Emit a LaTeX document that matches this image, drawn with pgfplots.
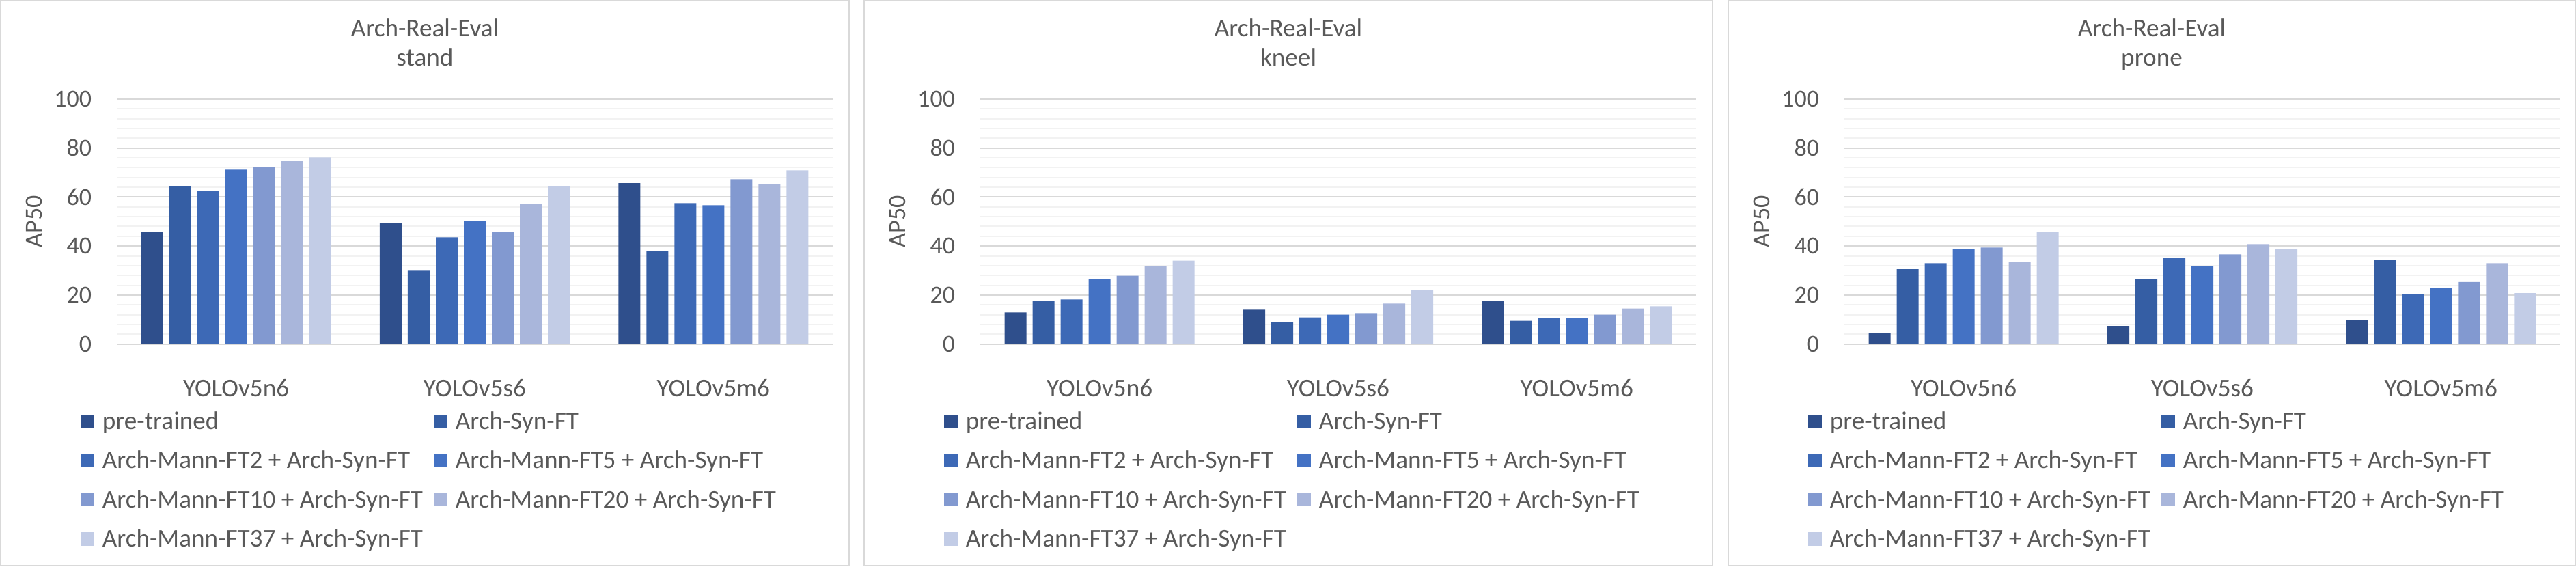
\documentclass[border=0pt]{standalone}
\usepackage{fontspec}
\setmainfont{Carlito}
\usepackage{pgfplots}
\usepackage{pgfplotstable}
\pgfplotsset{compat=1.18}

\definecolor{txt}{HTML}{595959}
\definecolor{majg}{HTML}{D9D9D9}
\definecolor{ming}{HTML}{F2F2F2}
\definecolor{cA}{HTML}{2F4F8C}
\definecolor{cB}{HTML}{355EA4}
\definecolor{cC}{HTML}{3D69B6}
\definecolor{cD}{HTML}{4472C4}
\definecolor{cE}{HTML}{8299D0}
\definecolor{cF}{HTML}{A9B6DB}
\definecolor{cG}{HTML}{C2CCE6}

\pgfplotstableread{
x pre syn ftb ftc ftd fte ftf
0 45.6 64.3 62.3 71.2 72.3 74.8 76.2
1 49.5 30.2 43.6 50.3 45.6 57.0 64.5
2 65.7 38.0 57.5 56.7 67.3 65.4 70.9
}\standtab
\pgfplotstableread{
x pre syn ftb ftc ftd fte ftf
0 12.9 17.6 18.2 26.5 27.9 31.8 34.0
1 14.0 8.9 10.9 12.0 12.6 16.5 22.0
2 17.6 9.5 10.6 10.6 12.0 14.5 15.4
}\kneeltab
\pgfplotstableread{
x pre syn ftb ftc ftd fte ftf
0 4.6 30.5 33.0 38.6 39.4 33.6 45.6
1 7.4 26.4 35.0 31.9 36.6 40.8 38.6
2 9.7 34.4 20.2 23.0 25.3 33.0 20.8
}\pronetab

\newcommand{\lb}[1]{\makebox[118.25pt][l]{#1}}

\pgfplotsset{
  panel/.style={
    scale only axis,
    width=262pt, height=89.65pt,
    ybar=2.25pt, bar width=8pt,
    ymin=0, ymax=100,
    ytick={0,20,...,100},
    minor ytick={4,8,...,96},
    xmin=-0.5, xmax=2.5,
    xtick={0,1,2},
    xticklabels={YOLOv5n6,YOLOv5s6,YOLOv5m6},
    axis line style={draw=none},
    tick style={draw=none},
    ymajorgrids, yminorgrids,
    major grid style={draw=majg, line width=0.5pt},
    minor grid style={draw=ming, line width=0.5pt},
    /pgf/number format/assume math mode=true,
    tick label style={font=\fontsize{9}{10}\selectfont, text=txt},
    yticklabel style={anchor=east, inner sep=0pt, xshift=-9pt},
    xticklabel style={anchor=base, inner sep=0pt, yshift=-14.85pt, font=\fontsize{9.3}{10}\selectfont},
    ylabel={AP50},
    ylabel style={at={(axis description cs:-0.1155,0.5)}, anchor=center, font=\fontsize{9}{10}\selectfont, text=txt, inner sep=0pt},
    legend columns=2,
    legend style={
      at={(axis description cs:-0.0515,-0.2725)}, anchor=north west,
      draw=none, fill=none, inner sep=0pt,
      column sep=3pt, row sep=5.9pt,
      font=\fontsize{9.3}{10}\selectfont, text=txt,
      nodes={inner sep=0pt, text height=6.5pt, text depth=2pt},
      cells={anchor=base west},
    },
    legend image code/.code={\fill[##1,draw=none] (0pt,0.6pt) rectangle (5pt,5.4pt);},
    legend entries={\lb{pre-trained},\lb{Arch-Syn-FT},\lb{Arch-Mann-FT2 + Arch-Syn-FT},\lb{Arch-Mann-FT5 + Arch-Syn-FT},\lb{Arch-Mann-FT10 + Arch-Syn-FT},\lb{Arch-Mann-FT20 + Arch-Syn-FT},\lb{Arch-Mann-FT37 + Arch-Syn-FT}},
  }
}

\newcommand{\panelplots}[1]{%
  \addplot[fill=cA, draw=none] table[x=x,y=pre] {#1};
  \addplot[fill=cB, draw=none] table[x=x,y=syn] {#1};
  \addplot[fill=cC, draw=none] table[x=x,y=ftb] {#1};
  \addplot[fill=cD, draw=none] table[x=x,y=ftc] {#1};
  \addplot[fill=cE, draw=none] table[x=x,y=ftd] {#1};
  \addplot[fill=cF, draw=none] table[x=x,y=fte] {#1};
  \addplot[fill=cG, draw=none] table[x=x,y=ftf] {#1};
}

\begin{document}
\begin{tikzpicture}
\useasboundingbox (0pt,0pt) rectangle (942.75pt,207.25pt);
\draw[majg, line width=0.5pt] (0.25pt,0.25pt) rectangle (310.75pt,207pt);
\draw[majg, line width=0.5pt] (316.25pt,0.25pt) rectangle (626.75pt,207pt);
\draw[majg, line width=0.5pt] (632.5pt,0.25pt) rectangle (942.5pt,207pt);

\begin{axis}[panel, at={(42.75pt,81.35pt)}, anchor=south west]
\panelplots{\standtab}
\end{axis}
\begin{axis}[panel, at={(358.75pt,81.35pt)}, anchor=south west]
\panelplots{\kneeltab}
\end{axis}
\begin{axis}[panel, at={(675pt,81.35pt)}, anchor=south west]
\panelplots{\pronetab}
\end{axis}

\begin{scope}[every node/.style={anchor=base, inner sep=0pt, text=txt, font=\fontsize{9.3}{10}\selectfont}]
\node at (155.5pt,194pt) {Arch-Real-Eval};
\node at (155.5pt,183.25pt) {stand};
\node at (471.5pt,194pt) {Arch-Real-Eval};
\node at (471.5pt,183.25pt) {kneel};
\node at (787.5pt,194pt) {Arch-Real-Eval};
\node at (787.5pt,183.25pt) {prone};
\end{scope}
\end{tikzpicture}
\end{document}
